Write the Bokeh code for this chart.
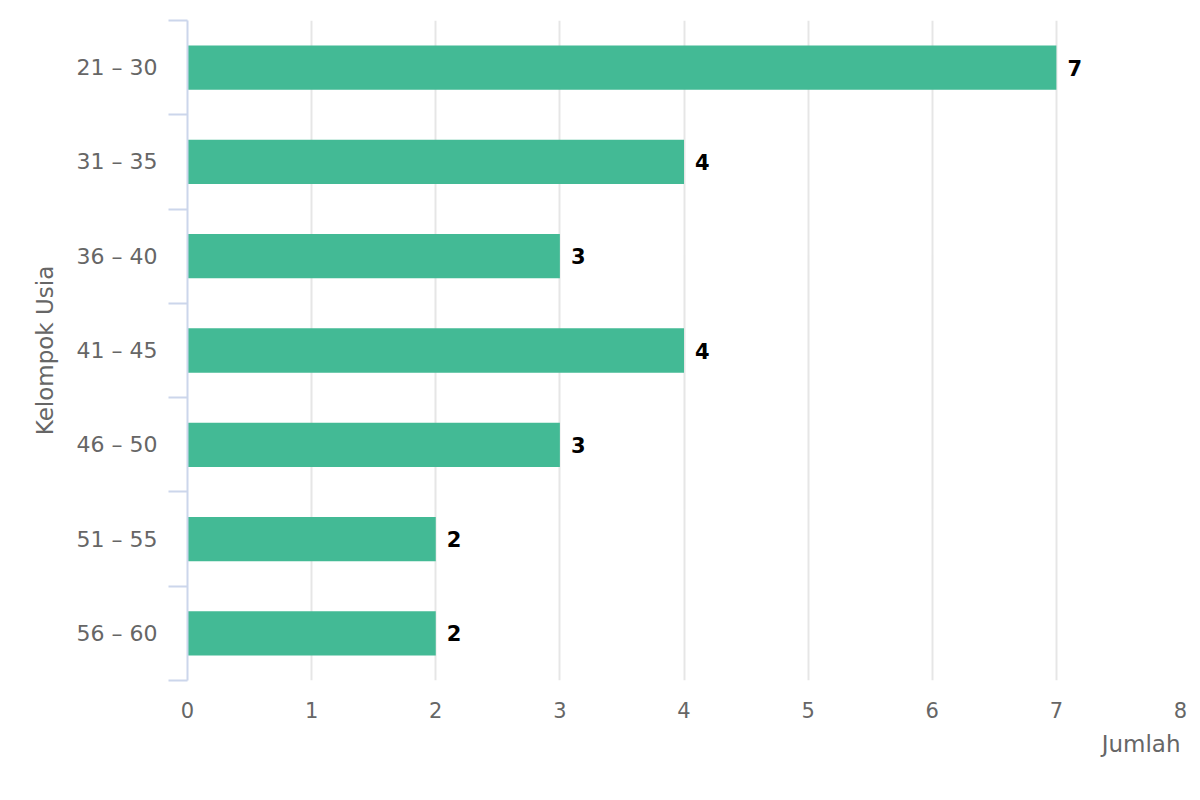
from bokeh.plotting import figure
from bokeh.models import ColumnDataSource, Range1d, FixedTicker, LabelSet, Title
from bokeh.core.properties import value
from bokeh.embed import file_html
from bokeh.resources import INLINE

# data
kelompok = ["21 – 30", "31 – 35", "36 – 40", "41 – 45", "46 – 50", "51 – 55", "56 – 60"]
jumlah = [7, 4, 3, 4, 3, 2, 2]
x_ticks = [0, 1, 2, 3, 4, 5, 6, 7, 8]

n = len(kelompok)
pos = [i + 0.5 for i in range(n)]
source = ColumnDataSource(dict(y=pos, right=jumlah, label=[str(v) for v in jumlah]))

FONT = "DejaVu Sans"

p = figure(width=1192, height=790, output_backend="svg", toolbar_location=None,
           x_range=Range1d(0, 8), y_range=Range1d(n, 0),
           min_border_left=187, min_border_top=20, min_border_right=12, min_border_bottom=60)
p.frame_width = 993
p.frame_height = 660
p.outline_line_color = None

p.hbar(y="y", left=0, right="right", height=0.47, source=source,
       fill_color="#43ba95", line_color=None)

labels = LabelSet(x="right", y="y", text="label", source=source, x_offset=11,
                  text_baseline="middle", text_font=value(FONT), text_font_style="bold",
                  text_font_size="21px", text_color="#000000")
p.add_layout(labels)

# value axis (bottom)
p.xaxis.ticker = FixedTicker(ticks=x_ticks)
p.xaxis.axis_line_color = None
p.xaxis.major_tick_line_color = None
p.xaxis.minor_tick_line_color = None
p.xaxis.major_label_text_font = FONT
p.xaxis.major_label_text_font_size = "21px"
p.xaxis.major_label_text_color = "#666666"
p.xaxis.major_label_standoff = 15

# axis title, right-aligned under the end of the value axis
p.add_layout(Title(text="Jumlah", align="right", text_font=FONT, text_font_size="23px",
                   text_font_style="normal", text_color="#666666", standoff=16), "below")

# category axis (left): labels at centres, tick marks at boundaries
p.yaxis.ticker = FixedTicker(ticks=pos, minor_ticks=list(range(n + 1)))
p.yaxis.major_label_overrides = {v: k for v, k in zip(pos, kelompok)}
p.yaxis.axis_line_color = "#ccd6eb"
p.yaxis.axis_line_width = 2
p.yaxis.major_tick_line_color = None
p.yaxis.major_tick_out = 0
p.yaxis.minor_tick_line_color = "#ccd6eb"
p.yaxis.minor_tick_line_width = 2
p.yaxis.minor_tick_out = 19
p.yaxis.minor_tick_in = 0
p.yaxis.major_label_text_font = FONT
p.yaxis.major_label_text_font_size = "22px"
p.yaxis.major_label_text_color = "#666666"
p.yaxis.major_label_standoff = 11
p.yaxis.axis_label = "Kelompok Usia"
p.yaxis.axis_label_text_font = FONT
p.yaxis.axis_label_text_font_style = "normal"
p.yaxis.axis_label_text_font_size = "23px"
p.yaxis.axis_label_text_color = "#666666"
p.yaxis.axis_label_standoff = 16

p.xgrid.ticker = FixedTicker(ticks=x_ticks)
p.xgrid.grid_line_color = "#e6e6e6"
p.xgrid.grid_line_width = 2
p.ygrid.grid_line_color = None

open("out.html", "w").write(file_html(p, INLINE))
